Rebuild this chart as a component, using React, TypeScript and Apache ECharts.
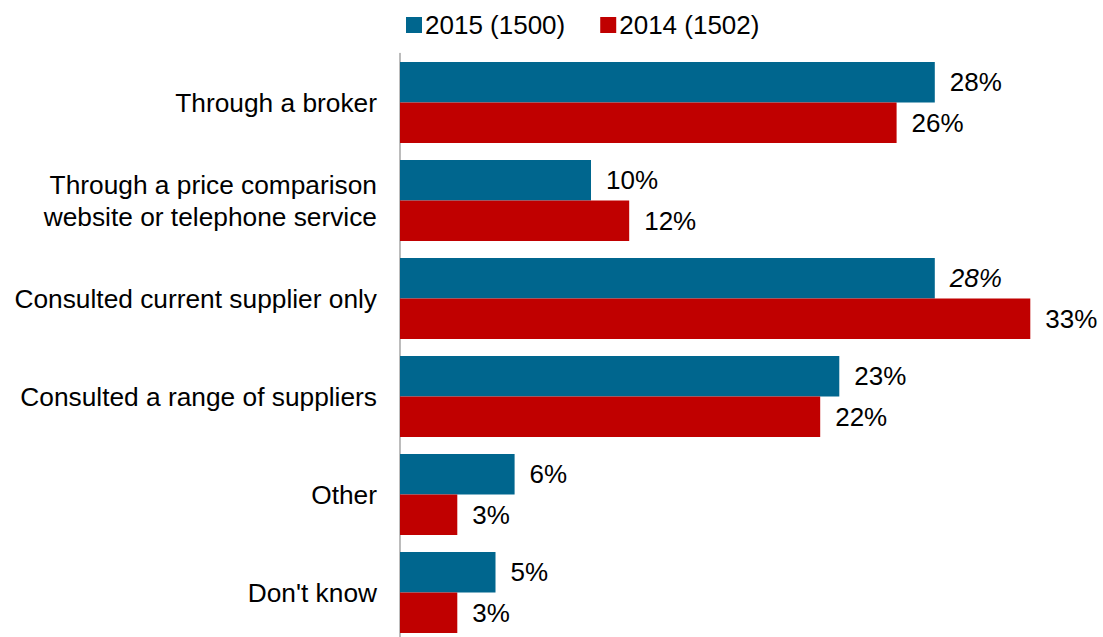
import React, { useEffect, useRef } from "react";
import * as echarts from "echarts";

const categories = [
  "Through a broker",
  "Through a price comparison\nwebsite or telephone service",
  "Consulted current supplier only",
  "Consulted a range of suppliers",
  "Other",
  "Don't know",
];
const series2015 = [28, 10, 28, 23, 6, 5];
const series2014 = [26, 12, 33, 22, 3, 3];
const italic2015 = [false, false, true, false, false, false];
const seriesNames = ["2015 (1500)", "2014 (1502)"];

const FONT = "'Liberation Sans', Arial, sans-serif";

export default function App() {
  const ref = useRef<HTMLDivElement>(null);
  useEffect(() => {
    if (!ref.current) return;
    const chart = echarts.init(ref.current, null, { renderer: "svg" });
    const label = {
      show: true,
      position: "right",
      distance: 15,
      formatter: "{c}%",
      fontSize: 26,
      color: "#000",
      fontFamily: FONT,
    };
    chart.setOption({
      animation: false,
      backgroundColor: "#fff",
      textStyle: { fontFamily: FONT },
      legend: {
        data: seriesNames,
        left: 406,
        top: 12,
        padding: 0,
        itemWidth: 16,
        itemHeight: 16,
        itemGap: 35,
        icon: "rect",
        textStyle: { fontSize: 26, color: "#000", fontFamily: FONT, padding: [0, 0, 0, -2] },
      },
      grid: { left: 400, top: 53.5, width: 668.5, height: 588, containLabel: false },
      xAxis: {
        type: "value",
        min: 0,
        max: 35,
        show: false,
        splitLine: { show: false },
      },
      yAxis: {
        type: "category",
        data: categories,
        inverse: true,
        axisLine: { show: true, lineStyle: { color: "#a6a6a6", width: 1.5 } },
        axisTick: { show: false },
        axisLabel: {
          margin: 23,
          fontSize: 26.3,
          color: "#000",
          fontFamily: FONT,
          lineHeight: 32,
          align: "right",
        },
      },
      series: [
        {
          name: seriesNames[0],
          type: "bar",
          barGap: "0%",
          barCategoryGap: "17.3%",
          itemStyle: { color: "#00668e" },
          label,
          data: series2015.map((v, i) =>
            italic2015[i] ? { value: v, label: { fontStyle: "italic" } } : v
          ),
        },
        {
          name: seriesNames[1],
          type: "bar",
          barGap: "0%",
          barCategoryGap: "17.3%",
          itemStyle: { color: "#c00000" },
          label,
          data: series2014,
        },
      ],
    });
    return () => chart.dispose();
  }, []);
  return (
    <div
      ref={ref}
      style={{ position: "fixed", left: 0, top: 0, width: 1103, height: 660 }}
    />
  );
}
